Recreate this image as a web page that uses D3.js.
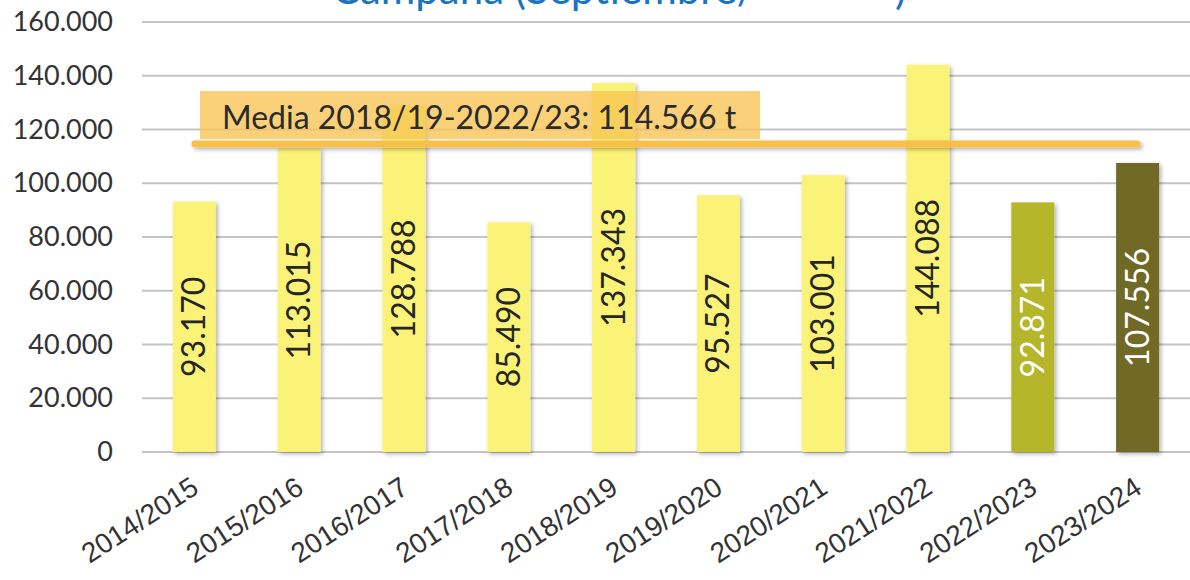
<!DOCTYPE html>
<html>
<head>
<meta charset="utf-8">
<script src="https://cdn.jsdelivr.net/npm/d3@7"></script>
<style>
  body { margin: 0; background: #fff; }
  svg { display: block; font-family: Lato, "Noto Sans", sans-serif; }
</style>
</head>
<body>
<script>
let campaigns = ["2014/2015", "2015/2016", "2016/2017", "2017/2018", "2018/2019",
                 "2019/2020", "2020/2021", "2021/2022", "2022/2023", "2023/2024"];
let tonnes = [93170, 113015, 128788, 85490, 137343, 95527, 103001, 144088, 92871, 107556];
let barColors = ["#fbf377", "#fbf377", "#fbf377", "#fbf377", "#fbf377",
                 "#fbf377", "#fbf377", "#fbf377", "#b5b62a", "#6f6b27"];
let labelColors = ["#262626", "#262626", "#262626", "#262626", "#262626",
                   "#262626", "#262626", "#262626", "#ffffff", "#ffffff"];
let yTicks = [0, 20000, 40000, 60000, 80000, 100000, 120000, 140000, 160000];
let mean = 114566;
let meanText = "Media 2018/19-2022/23: 114.566 t";

let width = 1190, height = 580;
let margin = {top: 22, right: 0, bottom: 128, left: 142};

let svg = d3.select("body").append("svg")
    .attr("width", width)
    .attr("height", height);

let defs = svg.append("defs");
let shadow = defs.append("filter").attr("id", "shadow")
    .attr("filterUnits", "userSpaceOnUse")
    .attr("x", 0).attr("y", 0).attr("width", width).attr("height", height);
shadow.append("feDropShadow")
    .attr("dx", 2).attr("dy", 2).attr("stdDeviation", 2)
    .attr("flood-color", "#000").attr("flood-opacity", 0.3);

let x = d3.scaleBand(campaigns, [margin.left, width - margin.right]).paddingInner(0.59).paddingOuter(0.295);
let y = d3.scaleLinear([0, 160000], [height - margin.bottom, margin.top]);

let fmt = d => d3.format(",")(d).replace(/,/g, ".");

// title, mostly outside the picture
let title = svg.append("text")
    .attr("x", 619).attr("y", 4)
    .attr("text-anchor", "middle")
    .attr("font-size", 42)
    .attr("fill", "#1a73c4");
title.append("tspan").text("Campaña (Septiembre/");
title.append("tspan").attr("fill", "#fff").text("Agosto ");
title.append("tspan").text(")");

// grid
svg.append("g")
    .attr("stroke", "#c4c4c4")
    .attr("stroke-width", 2)
  .selectAll("line")
  .data(yTicks)
  .join("line")
    .attr("x1", margin.left)
    .attr("x2", width - margin.right)
    .attr("y1", d => y(d))
    .attr("y2", d => y(d));

// y axis
svg.append("g")
    .attr("transform", `translate(${margin.left - 29},0)`)
    .call(d3.axisLeft(y).tickValues(yTicks).tickFormat(fmt).tickSize(0).tickPadding(0))
    .call(g => g.select(".domain").remove())
    .call(g => g.selectAll("text")
        .attr("font-size", 27)
        .attr("font-family", "Lato, sans-serif")
        .attr("fill", "#333"));

// bars
let bars = svg.append("g").selectAll("g")
  .data(campaigns)
  .join("g");

bars.append("rect")
    .attr("x", d => x(d))
    .attr("width", x.bandwidth())
    .attr("y", (d, i) => y(tonnes[i]))
    .attr("height", (d, i) => y(0) - y(tonnes[i]))
    .attr("fill", (d, i) => barColors[i])
    .attr("filter", "url(#shadow)");

bars.append("text")
    .attr("transform", (d, i) =>
        `translate(${x(d) + x.bandwidth() / 2 + 11},${(y(tonnes[i]) + y(0)) / 2}) rotate(-90)`)
    .attr("text-anchor", "middle")
    .attr("font-size", 32)
    .attr("fill", (d, i) => labelColors[i])
    .text((d, i) => fmt(tonnes[i]));

// x axis labels
svg.append("g")
    .attr("transform", `translate(0,${y(0)})`)
    .call(d3.axisBottom(x).tickSize(0).tickPadding(0))
    .call(g => g.select(".domain").remove())
    .call(g => g.selectAll("text")
        .attr("font-size", 28)
        .attr("fill", "#333")
        .attr("text-anchor", "end")
        .attr("dy", 0)
        .attr("transform", "translate(6,40) rotate(-33)"));

// mean line
let meanG = svg.append("g");
meanG.append("rect")
    .attr("x", x(campaigns[0]) + x.bandwidth() / 2 - 3)
    .attr("width", x(campaigns[9]) - x(campaigns[0]) + 6)
    .attr("y", y(mean) - 3.5)
    .attr("height", 7)
    .attr("rx", 3.5)
    .attr("fill", "#f8c04a")
    .attr("filter", "url(#shadow)");

meanG.append("rect")
    .attr("x", 200).attr("y", 91)
    .attr("width", 560).attr("height", 48)
    .attr("fill", "#f8c453")
    .attr("fill-opacity", 0.78);

meanG.append("text")
    .attr("x", 222).attr("y", 129)
    .attr("font-size", 32)
    .attr("fill", "#2b2b2b")
    .text(meanText);
</script>
</body>
</html>
